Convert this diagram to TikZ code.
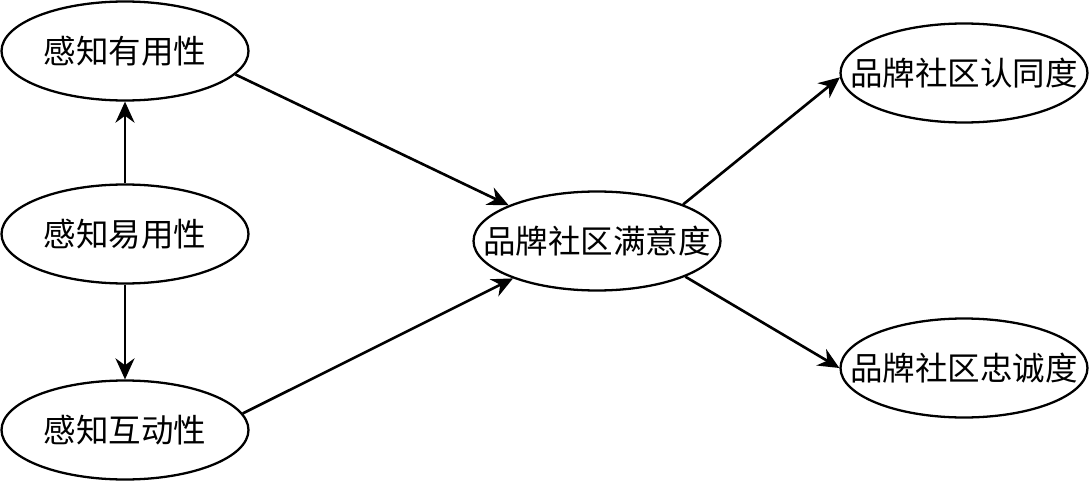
\documentclass[tikz,border=0pt]{standalone}
\usepackage{fontspec}
\newfontfamily\cjk{Noto Sans CJK SC}
\usetikzlibrary{shapes.geometric,arrows.meta}

\begin{document}
\begin{tikzpicture}[x=0.02cm,y=-0.02cm,->,>={Stealth[length=4.2mm,width=3.8mm]},line width=1.5pt,
    main node/.style={ellipse,draw,line width=1.3pt,inner ysep=0pt,inner xsep=-1cm,minimum width=4.94cm,minimum height=1.98cm,font=\cjk\fontsize{18.5pt}{20pt}\selectfont}]
                \useasboundingbox (0,0) rectangle (1089,483);
                \node[main node] (useful) at (125,51) {感知有用性};
                \node[main node] (easy) at (125,234) {感知易用性};
                \node[main node] (inter) at (125,430) {感知互动性};
                \node[main node] (satis) at (597,241) {品牌社区满意度};
                \node[main node] (ident) at (964,73) {品牌社区认同度};
                \node[main node] (loyal) at (964,368) {品牌社区忠诚度};
    
                \path
                    (easy) edge (useful)
                    (easy) edge (inter)
                    (useful.-12) edge (satis.158)
                    (inter.8) edge (satis.-156)
                    (satis.23) edge (ident.182)
                    (satis.-22) edge (loyal.180)
                    ;
            \end{tikzpicture}
\end{document}
